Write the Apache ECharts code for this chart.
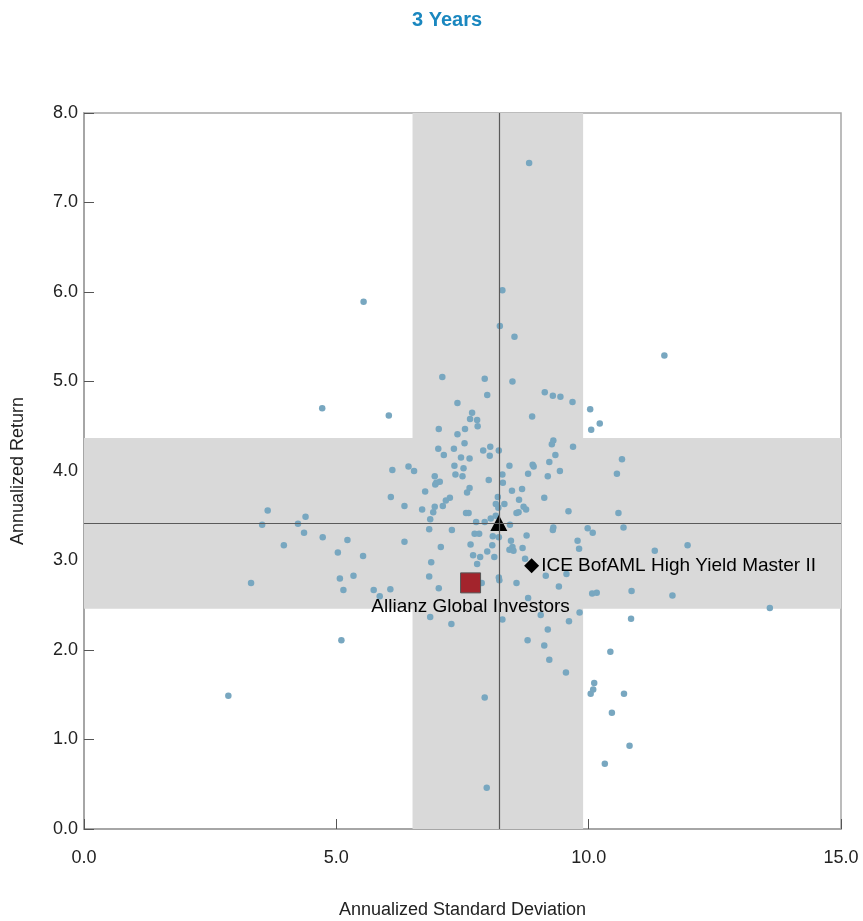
<!DOCTYPE html>
<html>
<head>
<meta charset="utf-8">
<script src="https://cdn.jsdelivr.net/npm/echarts@6/dist/echarts.min.js"></script>
<style>html,body{margin:0;padding:0;background:#fff}#c{width:863px;height:921px}</style>
</head>
<body>
<div id="c"></div>
<script>
// Peer universe: [annualized standard deviation, annualized return]
const peerRisk = [8.82,5.54,8.29,8.24,8.53,4.72,6.04,6.11,6.43,6.54,6.08,6.35,3.64,3.53,4.39,4.24,4.36,3.96,4.73,5.22,5.03,5.53,6.35,5.07,5.34,3.31,5.14,5.74,6.07,5.86,5.10,2.86,
7.10,7.94,8.49,7.99,7.40,9.13,9.29,9.44,9.68,10.03,10.22,10.05,7.69,7.65,7.79,7.80,7.03,7.55,8.88,7.40,7.54,7.02,7.33,7.91,8.05,8.04,8.22,7.13,7.47,7.64,9.30,9.27,9.69,9.34,9.22,8.43,8.89,8.91,7.34,7.52,7.36,7.50,6.95,6.96,7.05,6.98,8.02,8.29,8.30,8.80,9.19,9.43,10.56,6.76,7.64,7.59,8.68,8.48,7.25,7.17,7.11,6.95,6.70,6.92,6.86,8.20,8.16,8.33,8.21,8.62,8.71,8.76,8.61,8.57,9.12,9.60,10.59,7.57,7.62,8.06,8.16,7.94,7.77,8.44,6.84,7.29,7.74,7.83,8.10,8.22,8.77,9.29,9.30,9.98,10.08,7.07,7.66,8.09,7.99,7.85,7.71,8.46,8.49,8.43,8.51,8.69,9.78,9.81,8.13,7.79,6.88,8.74,6.84,8.22,9.15,9.56,
8.23,8.57,9.41,10.07,10.16,7.03,6.86,7.28,7.88,8.80,9.05,9.82,8.29,9.61,9.19,8.79,9.12,9.22,9.55,10.43,10.11,10.09,10.04,10.46,10.32,7.94,7.98,
10.85,11.66,13.59,10.84,10.70,10.81,11.50,10.66,10.69,11.31,11.96];
const peerReturn = [7.44,5.89,6.02,5.62,5.50,4.70,4.62,4.01,4.05,4.00,3.71,3.61,3.56,3.40,3.49,3.41,3.31,3.17,3.26,3.23,3.09,3.05,3.21,2.80,2.83,2.75,2.67,2.67,2.68,2.60,2.11,1.49,
5.05,5.03,5.00,4.85,4.76,4.88,4.84,4.83,4.77,4.69,4.53,4.46,4.65,4.58,4.57,4.50,4.47,4.47,4.61,4.41,4.31,4.25,4.25,4.23,4.27,4.17,4.23,4.18,4.15,4.14,4.34,4.30,4.27,4.18,4.10,4.06,4.07,4.05,4.06,4.03,3.96,3.94,3.94,3.85,3.88,3.87,3.90,3.96,3.87,3.97,3.94,4.00,3.97,3.77,3.81,3.76,3.80,3.78,3.70,3.67,3.61,3.60,3.57,3.54,3.46,3.71,3.63,3.63,3.59,3.68,3.60,3.57,3.54,3.53,3.70,3.55,3.53,3.53,3.53,3.47,3.50,3.43,3.43,3.40,3.35,3.34,3.30,3.30,3.27,3.26,3.28,3.34,3.37,3.36,3.31,3.15,3.18,3.17,3.10,3.04,3.06,3.22,3.15,3.12,3.11,3.14,3.22,3.13,3.04,2.96,2.98,3.02,2.82,2.81,2.83,2.85,
2.78,2.75,2.71,2.63,2.64,2.69,2.37,2.29,2.75,2.58,2.39,2.42,2.34,2.32,2.23,2.11,2.05,1.89,1.75,1.98,1.63,1.56,1.51,1.30,0.73,1.47,0.46,
2.66,2.61,2.47,2.35,1.51,0.93,5.29,4.13,3.37,3.11,3.17];

// Highlighted products
const productName = 'Allianz Global Investors';
const productPoint = [7.66, 2.75];
const benchmarkName = 'ICE BofAML High Yield Master II';
const benchmarkPoint = [8.87, 2.94];
const medianPoint = [8.22, 3.42];

// Interquartile bands
const bandRisk = [6.51, 9.89];
const bandReturn = [2.46, 4.37];

// Axis ticks
const xTicks = [0, 5, 10, 15];
const yTicks = [0, 1, 2, 3, 4, 5, 6, 7, 8];

const peers = peerRisk.map((x, i) => [x, peerReturn[i]]);
const FONT = "'Liberation Sans Narrow','Liberation Sans',Arial,sans-serif";

const chart = echarts.init(document.getElementById('c'), null, {renderer: 'canvas'});
chart.setOption({
  animation: false,
  backgroundColor: '#ffffff',
  title: {
    text: '3 Years', left: 407, top: 5,
    textStyle: {color: '#1a87bf', fontSize: 20, fontWeight: 'bold', fontFamily: FONT}
  },
  grid: {left: 84, right: 22, top: 113, bottom: 92, containLabel: false, outerBoundsMode: 'none',
         show: true, borderColor: '#a6a6a6', borderWidth: 1.5, backgroundColor: 'transparent'},
  xAxis: {
    type: 'value', min: xTicks[0], max: xTicks[xTicks.length - 1], interval: 5,
    name: 'Annualized Standard Deviation', nameLocation: 'middle', nameGap: 72,
    nameTextStyle: {color: '#222', fontSize: 18, fontFamily: FONT},
    axisLine: {show: true, onZero: false, lineStyle: {color: '#a6a6a6', width: 2}},
    axisTick: {show: true, inside: true, length: 10, lineStyle: {color: '#555'}},
    axisLabel: {color: '#222', fontSize: 18, margin: 20, fontFamily: FONT, formatter: v => v.toFixed(1)},
    splitLine: {show: false}
  },
  yAxis: {
    type: 'value', min: yTicks[0], max: yTicks[yTicks.length - 1], interval: 1,
    name: 'Annualized Return', nameLocation: 'middle', nameGap: 57, nameRotate: 90,
    nameTextStyle: {color: '#222', fontSize: 18, fontFamily: FONT},
    axisLine: {show: true, onZero: false, lineStyle: {color: '#a6a6a6', width: 2}},
    axisTick: {show: true, inside: true, length: 10, lineStyle: {color: '#555'}},
    axisLabel: {color: '#222', fontSize: 18, margin: 6, fontFamily: FONT, formatter: v => v.toFixed(1)},
    splitLine: {show: false}
  },
  series: [
    {
      type: 'scatter', data: [], z: 1, silent: true,
      markArea: {
        silent: true,
        itemStyle: {color: '#d9d9d9', opacity: 1},
        data: [
          [{xAxis: bandRisk[0], yAxis: yTicks[0]}, {xAxis: bandRisk[1], yAxis: yTicks[yTicks.length - 1]}],
          [{xAxis: xTicks[0], yAxis: bandReturn[0]}, {xAxis: xTicks[xTicks.length - 1], yAxis: bandReturn[1]}]
        ]
      },
      markLine: {
        silent: true, symbol: 'none', label: {show: false},
        lineStyle: {color: '#5a5a5a', width: 1.2, type: 'solid', opacity: 1},
        data: [{xAxis: medianPoint[0]}, {yAxis: medianPoint[1]}]
      }
    },
    {
      type: 'scatter', data: peers, z: 2, symbol: 'circle', symbolSize: 6.5,
      itemStyle: {color: '#78a7c0', opacity: 1}
    },
    {
      type: 'scatter', z: 4, data: [medianPoint], symbol: 'triangle', symbolSize: [17, 16],
      itemStyle: {color: '#000', opacity: 1}
    },
    {
      type: 'scatter', z: 4, data: [benchmarkPoint], symbol: 'diamond', symbolSize: 15,
      itemStyle: {color: '#000', opacity: 1},
      label: {show: true, position: 'right', distance: 2, formatter: benchmarkName, color: '#000', fontSize: 19, fontFamily: FONT}
    },
    {
      type: 'scatter', z: 4, data: [productPoint], symbol: 'rect', symbolSize: 20,
      itemStyle: {color: '#a3242c', borderColor: '#555', borderWidth: 1, opacity: 1},
      label: {show: true, position: 'bottom', distance: 4, formatter: productName, color: '#000', fontSize: 19, fontFamily: FONT}
    }
  ]
});
</script>
</body>
</html>
